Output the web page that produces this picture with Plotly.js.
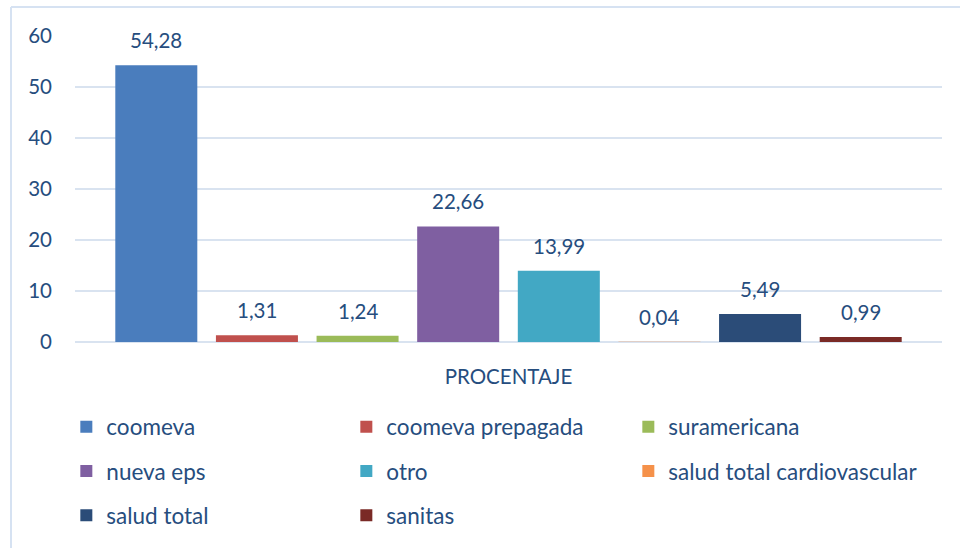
<!DOCTYPE html>
<html>
<head>
<meta charset="utf-8">
<script src="https://cdn.plot.ly/plotly-3.0.1.min.js"></script>
<style>html,body{margin:0;padding:0;background:#fff;}#chart{width:960px;height:548px;}</style>
</head>
<body>
<div id="chart"></div>
<script>
const category = ['PROCENTAJE'];
const seriesNames = ['coomeva', 'coomeva prepagada', 'suramericana', 'nueva eps', 'otro', 'salud total cardiovascular', 'salud total', 'sanitas'];
const seriesValues = [54.28, 1.31, 1.24, 22.66, 13.99, 0.04, 5.49, 0.99];
const seriesColors = ['#4a7dbd', '#c0504d', '#9bbb59', '#7f5fa1', '#42a8c4', '#f5914a', '#2b4c78', '#7a2a26'];
const yTicks = [0, 10, 20, 30, 40, 50, 60];
const legendCols = ['legend', 'legend2', 'legend3', 'legend', 'legend2', 'legend3', 'legend', 'legend2'];

const FONT = 'Lato, "Open Sans", sans-serif';
const TXT = '#264d7e';
const bargap = 0.0715;
const plotW = 960 - 75 - 18;
const slot = plotW * (1 - bargap) / seriesNames.length;

const traces = seriesNames.map((name, i) => ({
  type: 'bar',
  name: name,
  x: category,
  y: [seriesValues[i]],
  marker: {color: seriesColors[i], line: {width: 0}},
  legend: legendCols[i],
  legendgroup: 'g' + i,
  hoverinfo: 'skip'
}));

const annotations = seriesNames.map((name, i) => ({
  xref: 'x', yref: 'y',
  x: category[0], y: seriesValues[i],
  text: seriesValues[i].toFixed(2).replace('.', ','),
  showarrow: false,
  xanchor: 'center', yanchor: 'middle',
  xshift: (i - (seriesNames.length - 1) / 2) * slot,
  yshift: 25,
  font: {family: FONT, size: 20.5, color: TXT}
}));

const legendBase = {
  orientation: 'v', xref: 'paper', yref: 'paper',
  y: (342 - 405.5) / 306, xanchor: 'left', yanchor: 'top',
  tracegroupgap: 12,
  font: {family: FONT, size: 22.5, color: TXT},
  bgcolor: 'rgba(0,0,0,0)', borderwidth: 0, traceorder: 'grouped'
};

const layout = {
  width: 960, height: 548,
  margin: {l: 75, r: 18, t: 36, b: 206},
  paper_bgcolor: '#ffffff', plot_bgcolor: '#ffffff',
  separators: ',.',
  barmode: 'group', bargap: bargap, bargroupgap: 0.185,
  font: {family: FONT, size: 20.5, color: TXT},
  xaxis: {
    type: 'category', showgrid: false, zeroline: false, showline: false, ticks: '',
    tickfont: {family: FONT, size: 20.5, color: TXT}, ticklabelstandoff: 20
  },
  yaxis: {
    range: [0, 60], tickvals: yTicks, ticktext: yTicks.map(String),
    showgrid: true, gridcolor: '#d9e3f0', gridwidth: 1.5,
    zeroline: true, zerolinecolor: '#d9e3f0', zerolinewidth: 1.5,
    showline: false, ticks: '', ticklabelstandoff: 22,
    tickfont: {family: FONT, size: 20.5, color: TXT}
  },
  showlegend: true,
  legend: Object.assign({}, legendBase, {x: -0.01}),
  legend2: Object.assign({}, legendBase, {x: -0.01 + 280 / plotW}),
  legend3: Object.assign({}, legendBase, {x: -0.01 + 562 / plotW}),
  annotations: annotations,
  shapes: [
    {type: 'line', xref: 'paper', yref: 'paper', x0: (11 - 75) / plotW, x1: 1.2, y0: (342 - 7) / 306, y1: (342 - 7) / 306, line: {color: '#d6e2f2', width: 2}},
    {type: 'line', xref: 'paper', yref: 'paper', x0: (11 - 75) / plotW, x1: (11 - 75) / plotW, y0: (342 - 7) / 306, y1: -1, line: {color: '#d6e2f2', width: 2}}
  ]
};

Plotly.newPlot('chart', traces, layout, {staticPlot: true, displayModeBar: false});
</script>
</body>
</html>
